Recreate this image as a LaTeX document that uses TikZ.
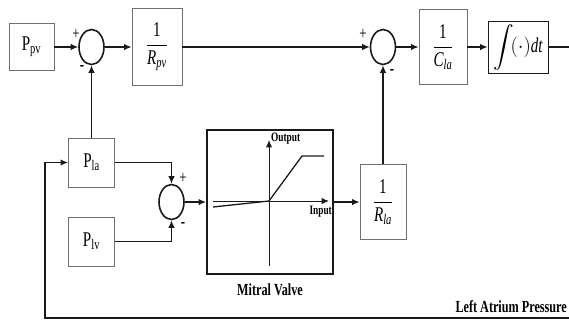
\documentclass[tikz,border=0pt]{standalone}
\usepackage{amsmath}
\usepackage{fontspec}
\setmainfont[FakeStretch=0.72]{Liberation Serif}
\usetikzlibrary{arrows.meta,positioning,calc,shapes.geometric}
\definecolor{Ink}{HTML}{1A1A1A}
\definecolor{BoxLine}{HTML}{707070}
\newcommand{\BlkFrac}[2]{$\displaystyle\frac{\text{1}}{\textit{#1}_{\textit{#2}}}$}
\newcommand{\Sgn}[3]{%
  \node[font=\fontsize{#3}{#3}\selectfont] at (#1) {#2};%
}
\begin{document}
\begin{tikzpicture}[x=1bp,y=-1bp,
  blk/.style={draw=BoxLine,line width=0.8pt,inner sep=0pt,font=\fontsize{21}{23}\selectfont},
  sumnode/.style={draw=Ink,ellipse,line width=1.6pt,minimum width=25bp,minimum height=35bp,inner sep=0pt},
  arr/.style={draw=Ink,line width=1.4pt,-{Latex[length=7.5pt,width=6.5pt]}},
  wire/.style={draw=Ink,line width=1.4pt},
  bold lbl/.style={font=\bfseries\fontsize{17}{18}\selectfont},
  axis lbl/.style={inner sep=0pt,font=\bfseries\fontsize{13}{13}\selectfont}]
\useasboundingbox (0,0) rectangle (569,322);
% top row
\node[blk,minimum width=45bp,minimum height=47bp] (ppv) at (31.5,47) {$\text{P}_{\text{pv}}$};
\node[sumnode] (s1) at (91.5,47) {};
\node[blk,minimum width=50bp,minimum height=77bp] (rpv) at (157,47) {\BlkFrac{R}{pv}};
\node[sumnode] (s2) at (383,47) {};
\node[blk,minimum width=48bp,minimum height=75bp] (cla) at (443,47) {\BlkFrac{C}{la}};
\node[blk,draw=Ink,minimum width=60bp,minimum height=52bp] (int) at (518,47) {$\displaystyle\int\!({\cdot})\textit{dt}$};
\coordinate (out) at (569,47);
% lower part
\node[blk,minimum width=46bp,minimum height=49bp] (pla) at (91.5,162.5) {$\text{P}_{\text{la}}$};
\node[blk,minimum width=46bp,minimum height=49bp] (plv) at (91.5,241.5) {$\text{P}_{\text{lv}}$};
\node[sumnode] (s3) at (171.5,202) {};
\node[draw=Ink,line width=1.8pt,minimum width=126bp,minimum height=144bp] (mv) at (270,202) {};
\node[blk,minimum width=46bp,minimum height=75bp] (rla) at (383,202) {\BlkFrac{R}{la}};
\coordinate (fbR) at (569,318);
\coordinate (fbL) at (45,318);
% valve curve
\draw[arr,line width=1pt] (269,266) -- (269,140);
\draw[arr,line width=1pt] (213,201) -- (329,201);
\draw[Ink,line width=1.3pt] (213,207) -- (269,201) -- (302,156) -- (324,156);
\node[axis lbl,anchor=west] (outlbl) at (271,139) {Output};
\node[axis lbl,anchor=north east] (inlbl) at (332,206) {Input};
\node[bold lbl] (mvlbl) at (270,290) {Mitral Valve};
\node[bold lbl,anchor=east,inner sep=0pt] (lap) at (567,307) {Left Atrium Pressure};
% signs
\Sgn{76,34}{+}{18}
\Sgn{82,68}{\textbf{-}}{18}
\Sgn{363,34}{+}{18}
\Sgn{392,72}{\textbf{-}}{18}
\Sgn{183,178}{+}{18}
\Sgn{183,225}{\textbf{-}}{18}
% connections
\draw[arr] (ppv) -- (s1);
\draw[arr] (s1) -- (rpv);
\draw[arr] (rpv) -- (s2);
\draw[arr] (s2) -- (cla);
\draw[arr] (cla) -- (int);
\draw[wire] (int) -- (out);
\draw[arr] (pla) -- (s1);
\draw[arr] (pla.east) -| (s3.north);
\draw[arr] (plv.east) -| (s3.south);
\draw[arr] (s3) -- (mv);
\draw[arr] (mv) -- (rla);
\draw[arr] (rla) -- (s2);
\draw[arr,line width=1.5pt] (fbR) -- (fbL) |- (pla.west);
\end{tikzpicture}
\end{document}
